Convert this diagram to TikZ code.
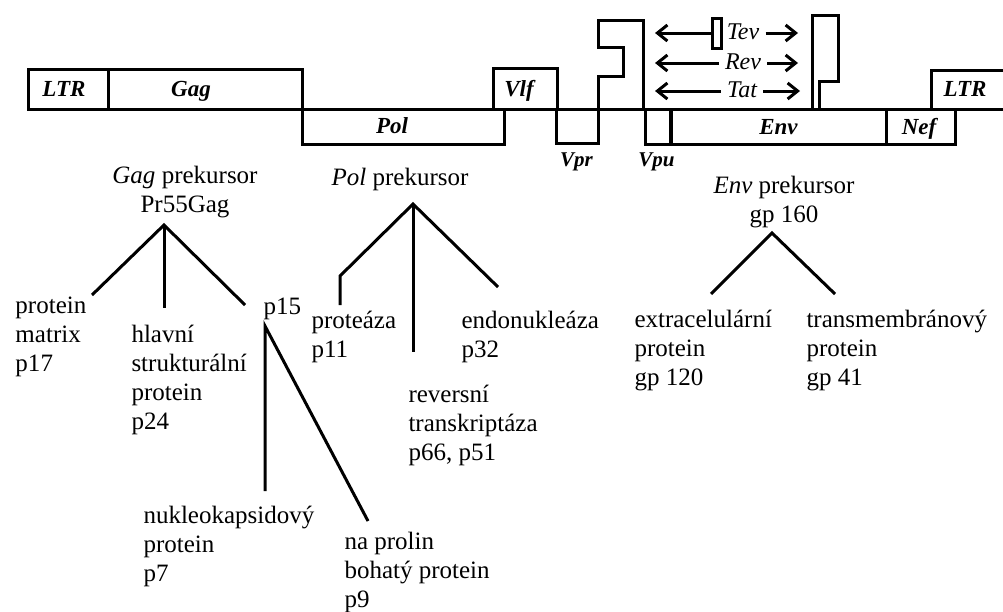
\documentclass[tikz,border=0pt]{standalone}
\usepackage{fontspec}
\setmainfont{Liberation Serif}
\usetikzlibrary{arrows.meta}
\begin{document}
\begin{tikzpicture}[x=1pt,y=-1pt,
  line width=3pt,
  genebox/.style={draw, line width=3pt, inner sep=0pt},
  genename/.style={font=\fontsize{23}{27}\selectfont\bfseries\itshape,
    inner sep=0pt, text height=15pt, text depth=0pt},
  vname/.style={genename, font=\fontsize{21}{25}\selectfont\bfseries\itshape},
  regname/.style={font=\fontsize{24}{28}\selectfont\itshape,
    inner xsep=5pt, inner ysep=0pt, text height=12pt, text depth=0pt},
  leaf/.style={font=\fontsize{25}{29}\selectfont, align=left,
    anchor=north west, inner sep=0pt},
  precursor/.style={font=\fontsize{25}{29}\selectfont, align=center,
    anchor=north, inner sep=0pt},
  branch/.style={line width=3pt, line join=miter},
  rnaarrow/.style={line width=3pt, -{Straight Barb[length=10pt,width=16pt]}}
]
\useasboundingbox (0,0) rectangle (1003,611);

% ---------- genome map ----------
\draw (28,109) -- (1012,109);
\node[genebox, minimum width=80, minimum height=40]  (ltrL) at (68,89) {};
\node[genebox, minimum width=194, minimum height=40] (gag)  at (205,89) {};
\node[genebox, minimum width=202, minimum height=35] (pol)  at (403,126.5) {};
\node[genebox, minimum width=64, minimum height=41]  (vlf)  at (525,88.5) {};
\node[genebox, minimum width=42, minimum height=34]  (vpr)  at (577,126) {};
\node[genebox, minimum width=25, minimum height=35]  (vpu)  at (658,126.5) {};
\node[genebox, minimum width=215, minimum height=35] (env)  at (778.5,126.5) {};
\node[genebox, minimum width=69, minimum height=35]  (nef)  at (920.5,126.5) {};
\node[genebox, minimum width=81, minimum height=39]  (ltrR) at (971.5,89.5) {};

% upper exon with the notch, and the tall second exon of tev/rev
\draw[line join=miter] (598,109) -- (598,76) -- (623,76) -- (623,47)
  -- (598,47) -- (598,20) -- (643,20) -- (643,109);
\draw[line join=miter] (812,109) -- (812,15) -- (838,15) -- (838,81)
  -- (819,81) -- (819,109);
\node[genebox, minimum width=9, minimum height=30] (tevbox) at (716.5,33) {};

\node[genename] at (64,89)    {LTR};
\node[genename] at (191,89)   {Gag};
\node[genename] at (392,126)  {Pol};
\node[genename] at (519,89)   {Vlf};
\node[genename] at (778.5,127){Env};
\node[genename] at (919,127)  {Nef};
\node[genename] at (965,89)   {LTR};
\node[vname] at (576.5,159) {Vpr};
\node[vname] at (656.5,159) {Vpu};

% regulatory genes spliced across the map
\node[regname] (tev) at (743,33) {Tev};
\node[regname] (rev) at (743,63) {Rev};
\node[regname] (tat) at (742,91) {Tat};
\coordinate (tevL) at (655,33);
\coordinate (tevR) at (798,33);
\coordinate (revL) at (655,63);
\coordinate (revR) at (798,63);
\coordinate (tatL) at (655,91);
\coordinate (tatR) at (800,91);
\draw[rnaarrow] (tevbox.west) -- (tevL);
\draw[rnaarrow] (tev.east) -- (tevR);
\draw[rnaarrow] (rev.west) -- (revL);
\draw[rnaarrow] (rev.east) -- (revR);
\draw[rnaarrow] (tat.west) -- (tatL);
\draw[rnaarrow] (tat.east) -- (tatR);

% ---------- processing of the precursors ----------
\node[precursor] (gagP) at (185,165) {\textit{Gag} prekursor\\Pr55Gag};
\node[precursor] (polP) at (400,167) {\textit{Pol} prekursor};
\node[precursor] (envP) at (784,175) {\textit{Env} prekursor\\gp 160};

\node[leaf] (mat)  at (14,295)  {protein\\matrix\\p17};
\node[leaf] (str)  at (130,324) {hlavní\\strukturální\\protein\\p24};
\node[leaf] (p15)  at (262,296) {p15};
\node[leaf] (nc)   at (142,505) {nukleokapsidový\\protein\\p7};
\node[leaf] (pr)   at (343,531) {na prolin\\bohatý protein\\p9};
\node[leaf] (pro)  at (310,310) {proteáza\\p11};
\node[leaf] (rt)   at (407,384) {reversní\\transkriptáza\\p66, p51};
\node[leaf] (endo) at (460,310) {endonukleáza\\p32};
\node[leaf] (ec)   at (633,309) {extracelulární\\protein\\gp 120};
\node[leaf] (tm)   at (805,309) {transmembránový\\protein\\gp 41};

% Gag branches
\coordinate (gA)   at (164,225);
\coordinate (gMat) at (92,295);
\coordinate (gStr) at (164,308);
\coordinate (gP15) at (245,305);
\draw[branch] (gMat) -- (gA) -- (gP15);
\draw[branch] (gA) -- (gStr);

% p15 branches
\coordinate (qA)  at (265,326);
\coordinate (qNc) at (265,491);
\coordinate (qPr) at (368,521);
\draw[branch] (qNc) -- (qA) -- (qPr);

% Pol branches
\coordinate (pA)    at (413,204);
\coordinate (pKnee) at (340,276);
\coordinate (pPro)  at (340,305);
\coordinate (pRt)   at (413,352);
\coordinate (pEndo) at (498,287);
\draw[branch] (pPro) -- (pKnee) -- (pA) -- (pEndo);
\draw[branch] (pA) -- (pRt);

% Env branches
\coordinate (eA)  at (772,233);
\coordinate (eEc) at (711,294);
\coordinate (eTm) at (835,294);
\draw[branch] (eEc) -- (eA) -- (eTm);
\end{tikzpicture}
\end{document}
